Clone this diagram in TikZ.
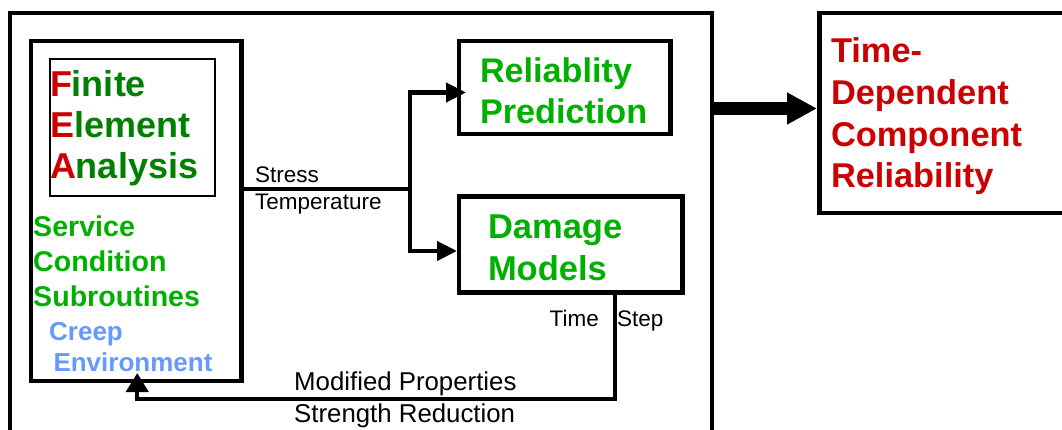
\documentclass[tikz,border=0pt]{standalone}
\usepackage{fontspec}
\setmainfont{Liberation Sans}
\usetikzlibrary{arrows.meta,calc}

\definecolor{feared}{RGB}{204,0,0}
\definecolor{feagreen}{RGB}{0,128,0}
\definecolor{brightgreen}{RGB}{0,176,0}
\definecolor{modeblue}{RGB}{102,153,255}

\tikzset{
  blockbox/.style={draw, line width=4.5pt, outer sep=0pt, inner ysep=2pt, anchor=north west, align=left},
  conn/.style={line width=4.3pt},
  arrowhd/.style={-{Triangle[length=20pt,width=19pt]}},
  smalltxt/.style={font=\fontsize{22.5}{27}\selectfont, inner sep=0pt}
}

\begin{document}
\begin{tikzpicture}[x=1pt,y=-1pt]
\useasboundingbox (0,0) rectangle (1062,430);
\clip (0,0) rectangle (1062,430);

%внешняя рамка
\node[blockbox, minimum width=702pt, minimum height=440pt] (frame) at (10,13) {};

%блок МКЭ
\node[blockbox, minimum width=210.5pt, minimum height=340pt] (fea) at (31,41) {};
\node[blockbox, line width=2pt, minimum width=165pt, minimum height=136.5pt, inner xsep=0.5pt, inner ysep=0pt, text width=164pt, text=feagreen, font=\bfseries\fontsize{36}{41}\selectfont] (fealabel) at (49.5,59.5) {\textcolor{feared}{F}inite\\\textcolor{feared}{E}lement\\\textcolor{feared}{A}nalysis};
\node[anchor=north west, inner sep=0pt, align=left, text=brightgreen, font=\bfseries\fontsize{28.6}{35}\selectfont] (service) at (33,216) {Service\\Condition\\Subroutines};
\node[anchor=north west, inner sep=0pt, align=left, text=modeblue, font=\bfseries\fontsize{26}{31}\selectfont] (modes) at (49,322) {Creep\\\hspace*{4.3pt}Environment};

%блоки справа
\node[blockbox, minimum width=211.5pt, minimum height=93pt, inner xsep=21pt, text width=169.5pt, text=brightgreen, font=\bfseries\fontsize{34.2}{41.6}\selectfont] (reliab) at (459,41) {\rule{0pt}{31pt}Reliablity\\Prediction};
\node[blockbox, minimum width=223.5pt, minimum height=96pt, inner xsep=29pt, text width=165.5pt, text=brightgreen, font=\bfseries\fontsize{34.5}{42}\selectfont] (damage) at (459,196.5) {\rule{0pt}{31pt}Damage\\Models};
\node[blockbox, minimum width=260pt, minimum height=200pt, inner xsep=11.5pt, text width=237pt, text=feared, font=\bfseries\fontsize{34.4}{41.7}\selectfont] (result) at (819.5,13) {\rule{0pt}{32pt}Time-\\Dependent\\Component\\Reliability};

%подписи
\node[smalltxt, anchor=base west] (stress) at (255,182.7) {Stress};
\node[smalltxt, anchor=base west] (temp) at (255,210) {Temperature};
\node[smalltxt, anchor=base east] (time) at (599,326) {Time};
\node[smalltxt, anchor=base west] (step) at (617,326) {Step};
\node[smalltxt, font=\fontsize{25.8}{31}\selectfont, anchor=base west] (modprop) at (294,390) {Modified Properties};
\node[smalltxt, font=\fontsize{25.8}{31}\selectfont, anchor=base west] (strength) at (294,422.5) {Strength Reduction};

%стрелки
\coordinate (split) at (410,189);
\draw[conn] (fea.east |- split) -- (split);
\draw[conn, arrowhd] (split) |- ($(reliab.west)+(7,5)$);
\draw[conn, arrowhd] (split) |- ($(damage.west)+(-2,6.5)$);

\coordinate (ret) at (615,399);
\coordinate (feain) at ($(fea.south)+(1,-8)$);
\draw[conn, -{Triangle[length=19pt,width=22pt]}] (damage.south -| ret) -- (ret) -| (feain);

\draw[line width=13pt, -{Triangle[length=30pt,width=30pt]}] ($(frame.east |- result.west)+(0,-4.5)$) -- ($(result.west)+(-2.5,-4.5)$);

\end{tikzpicture}
\end{document}
